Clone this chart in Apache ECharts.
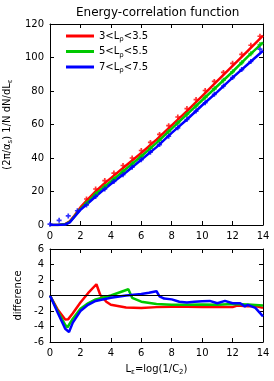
<!DOCTYPE html>
<html><head><meta charset="utf-8">
<script src="https://cdn.jsdelivr.net/npm/echarts@6/dist/echarts.min.js"></script>
<style>html,body{margin:0;padding:0;background:#fff}#c{width:274px;height:381px}</style>
</head><body><div id="c"></div>
<script>
// ---- data ----
const seriesNames = ['3<L{sub|ρ}<3.5', '5<L{sub|ρ}<5.5', '7<L{sub|ρ}<7.5'];
const colors = ['#ff0000', '#00c800', '#0000ff'];

// top panel: MC curves
const redLineX   = [0, 0.5, 1.0, 1.3, 1.6, 2.0, 2.5, 3.0, 3.5, 4.0, 5.0, 6.0, 7.0, 8.0, 9.0, 10.0, 11.0, 12.0, 13.0, 14.0];
const redLineY   = [0, 0, 0.6, 2.2, 5.5, 10.5, 15.5, 20, 24.2, 28, 35.5, 43, 51, 59.5, 68, 77, 86, 95, 104, 113];
const greenLineX = [0, 0.5, 1.0, 1.3, 1.6, 2.0, 2.5, 3.0, 3.5, 4.0, 5.0, 6.0, 7.0, 8.0, 9.0, 10.0, 11.0, 12.0, 13.0, 14.0];
const greenLineY = [0, 0, 0.4, 1.8, 5, 9.5, 14, 18.5, 22.3, 26, 33.5, 41, 49, 57.5, 66, 74.5, 83, 91.5, 100.5, 109];
const blueLineX  = [0, 0.5, 1.0, 1.3, 1.6, 2.0, 2.5, 3.0, 3.5, 4.0, 5.0, 6.0, 7.0, 8.0, 9.0, 10.0, 11.0, 12.0, 13.0, 14.0];
const blueLineY  = [0, 0, 0.3, 1.6, 4.8, 9, 13, 17, 20.8, 24.5, 31.5, 39, 46.5, 55, 63, 71.5, 79.5, 88, 96, 104];

// top panel: data points
const redPtsX   = [2.4, 3.0, 3.6, 4.2, 4.8, 5.4, 6.0, 6.6, 7.2, 7.8, 8.4, 9.0, 9.6, 10.2, 10.8, 11.4, 12.0, 12.6, 13.2, 13.8];
const redPtsY   = [15.5, 21.5, 26.5, 31, 35.5, 40, 44.5, 49.3, 54.1, 59.3, 64.5, 69.5, 74.9, 80.3, 85.7, 91.1, 96.5, 101.9, 107.3, 112.7];
const greenPtsX = [2.4, 3.0, 3.6, 4.2, 4.8, 5.4, 6.0, 6.6, 7.2, 7.8, 8.4, 9.0, 9.6, 10.2, 10.8, 11.4, 12.0, 12.6, 13.2, 13.8];
const greenPtsY = [13, 18.5, 23, 27.5, 32, 36.5, 41, 45.8, 50.6, 55.8, 61, 66, 71.1, 76.2, 81.3, 86.4, 91.5, 96.9, 102.3, 107.7];
const bluePtsX  = [0, 0.6, 1.2, 1.8, 2.4, 3.0, 3.6, 4.2, 4.8, 5.4, 6.0, 6.6, 7.2, 7.8, 8.4, 9.0, 9.6, 10.2, 10.8, 11.4, 12.0, 12.6, 13.2, 13.8];
const bluePtsY  = [0.5, 2.8, 5.4, 8.5, 12, 17, 21.5, 26, 30, 34.5, 39, 43.5, 48, 53, 58, 63, 68, 73, 78, 83, 88, 92.8, 97.6, 105];

// bottom panel: differences
const redDiffX   = [0, 0.5, 1.0, 1.2, 1.5, 2.0, 2.5, 3.05, 3.3, 3.7, 4.0, 5.0, 6.0, 7.0, 8.0, 9.0, 10.0, 11.0, 12.0, 12.3, 13.0, 13.5, 14.0];
const redDiffY   = [0, -1.8, -3.1, -3.05, -2.3, -0.9, 0.3, 1.45, 0.1, -0.8, -1.2, -1.55, -1.6, -1.5, -1.45, -1.45, -1.5, -1.45, -1.5, -1.3, -1.4, -1.35, -1.6];
const greenDiffX = [0, 0.5, 1.0, 1.15, 1.5, 2.0, 2.5, 3.0, 4.0, 5.15, 5.4, 6.0, 7.0, 8.0, 9.0, 10.0, 11.0, 12.0, 13.0, 14.0];
const greenDiffY = [0, -2, -3.8, -4.1, -3, -1.7, -1, -0.5, 0, 0.8, -0.3, -0.8, -1.1, -1.2, -1.2, -1.15, -1.2, -1.1, -1.15, -1.3];
const blueDiffX  = [0, 0.5, 1.0, 1.25, 1.5, 2.0, 2.5, 3.0, 4.0, 5.0, 6.0, 6.5, 7.0, 7.2, 7.5, 8.0, 8.5, 9.0, 9.5, 10.0, 10.5, 11.0, 11.5, 12.0, 12.5, 12.8, 13.0, 13.5, 14.0];
const blueDiffY  = [0, -2.2, -4.3, -4.7, -3.5, -2, -1.2, -0.7, -0.3, 0, 0.2, 0.35, 0.55, -0.1, -0.4, -0.5, -0.8, -0.9, -0.8, -0.75, -0.7, -1.0, -0.7, -1.0, -1.0, -1.4, -1.2, -1.6, -2.7];

const xTicks = {min: 0, max: 14, interval: 2};
const topY = {min: 0, max: 120, interval: 20};
const botY = {min: -6, max: 6, interval: 2};
const zeroLine = 0;

// ---- build ----
const zip = (xs, ys) => xs.map((x, i) => [x, ys[i]]);
const font = 'DejaVu Sans';
const sub = {fontSize: 7, lineHeight: 7, verticalAlign: 'bottom', fontFamily: font, color: '#000'};
const plus = 'path://M2,0h2v2h2v2h-2v2h-2v-2h-2v-2h2z';

function xAx(grid, pos, labels, extra) {
  return Object.assign({
    type: 'value', gridIndex: grid, position: pos, min: xTicks.min, max: xTicks.max, interval: xTicks.interval,
    axisLine: {onZero: false, lineStyle: {color: '#000', width: 1}},
    axisTick: {show: true, inside: true, length: 4, lineStyle: {color: '#000'}},
    axisLabel: {show: labels, color: '#000', fontFamily: font, fontSize: 10, margin: 6},
    splitLine: {show: false}
  }, extra || {});
}
function yAx(grid, pos, lim, labels, extra) {
  return Object.assign({
    type: 'value', gridIndex: grid, position: pos, min: lim.min, max: lim.max, interval: lim.interval,
    axisLine: {onZero: false, lineStyle: {color: '#000', width: 1}},
    axisTick: {show: true, inside: true, length: 4, lineStyle: {color: '#000'}},
    axisLabel: {show: labels, color: '#000', fontFamily: font, fontSize: 10, margin: 6},
    splitLine: {show: false}
  }, extra || {});
}

const lineSeries = (name, data, color, xi, yi) => ({
  name: name, type: 'line', xAxisIndex: xi, yAxisIndex: yi, data: data, showSymbol: false, symbol: 'none',
  lineStyle: {color: color, width: 2.5}, itemStyle: {color: color}, animation: false, z: 3
});
const ptSeries = (data, color) => ({
  type: 'scatter', xAxisIndex: 0, yAxisIndex: 0, data: data, symbol: plus, symbolSize: 5,
  itemStyle: {color: color}, animation: false, z: 4
});

const chart = echarts.init(document.getElementById('c'), null, {renderer: 'canvas'});
chart.setOption({
  animation: false,
  backgroundColor: '#fff',
  graphic: [{
    type: 'text', left: 156 - 80, top: 7,
    style: {text: 'Energy-correlation function', fontFamily: font, fontSize: 12, fill: '#000'}
  }],
  legend: {
    data: seriesNames, left: 61, top: 24, orient: 'vertical', itemWidth: 28, itemHeight: 3, itemGap: 1.5,
    icon: 'rect', selectedMode: false,
    textStyle: {fontFamily: font, fontSize: 10, color: '#000', lineHeight: 14, rich: {sub: sub}}
  },
  grid: [
    {left: 50, top: 24, width: 213, height: 201, containLabel: false, outerBoundsMode: 'none'},
    {left: 50, top: 249, width: 213, height: 93, containLabel: false, outerBoundsMode: 'none'}
  ],
  xAxis: [
    xAx(0, 'bottom', true),
    xAx(0, 'top', false),
    xAx(1, 'bottom', true, {name: 'L{sub|ε}=log(1/C{sub|2})', nameLocation: 'middle', nameGap: 20,
      nameTextStyle: {fontFamily: font, fontSize: 10, color: '#000', lineHeight: 14, rich: {sub: sub}}}),
    xAx(1, 'top', false)
  ],
  yAxis: [
    yAx(0, 'left', topY, true, {name: '(2π/α{sub|s}) 1/N dN/dL{sub|ε}', nameLocation: 'middle', nameGap: 29, nameRotate: 90,
      nameTextStyle: {fontFamily: font, fontSize: 10, color: '#000', lineHeight: 14, rich: {sub: sub}}}),
    yAx(0, 'right', topY, false),
    yAx(1, 'left', botY, true, {name: 'difference', nameLocation: 'middle', nameGap: 25, nameRotate: 90,
      nameTextStyle: {fontFamily: font, fontSize: 10, color: '#000'}}),
    yAx(1, 'right', botY, false)
  ],
  series: [
    lineSeries(seriesNames[0], zip(redLineX, redLineY), colors[0], 0, 0),
    lineSeries(seriesNames[1], zip(greenLineX, greenLineY), colors[1], 0, 0),
    lineSeries(seriesNames[2], zip(blueLineX, blueLineY), colors[2], 0, 0),
    ptSeries(zip(redPtsX, redPtsY), colors[0]),
    ptSeries(zip(greenPtsX, greenPtsY), colors[1]),
    ptSeries(zip(bluePtsX, bluePtsY), colors[2]),
    Object.assign(lineSeries('zero', [], '#000', 2, 2), {
      markLine: {silent: true, symbol: 'none', label: {show: false}, animation: false,
        lineStyle: {color: '#000', width: 1, type: 'solid'}, data: [{yAxis: zeroLine}]}, z: 2
    }),
    lineSeries('d1', zip(redDiffX, redDiffY), colors[0], 2, 2),
    lineSeries('d2', zip(greenDiffX, greenDiffY), colors[1], 2, 2),
    lineSeries('d3', zip(blueDiffX, blueDiffY), colors[2], 2, 2)
  ]
});
</script></body></html>
